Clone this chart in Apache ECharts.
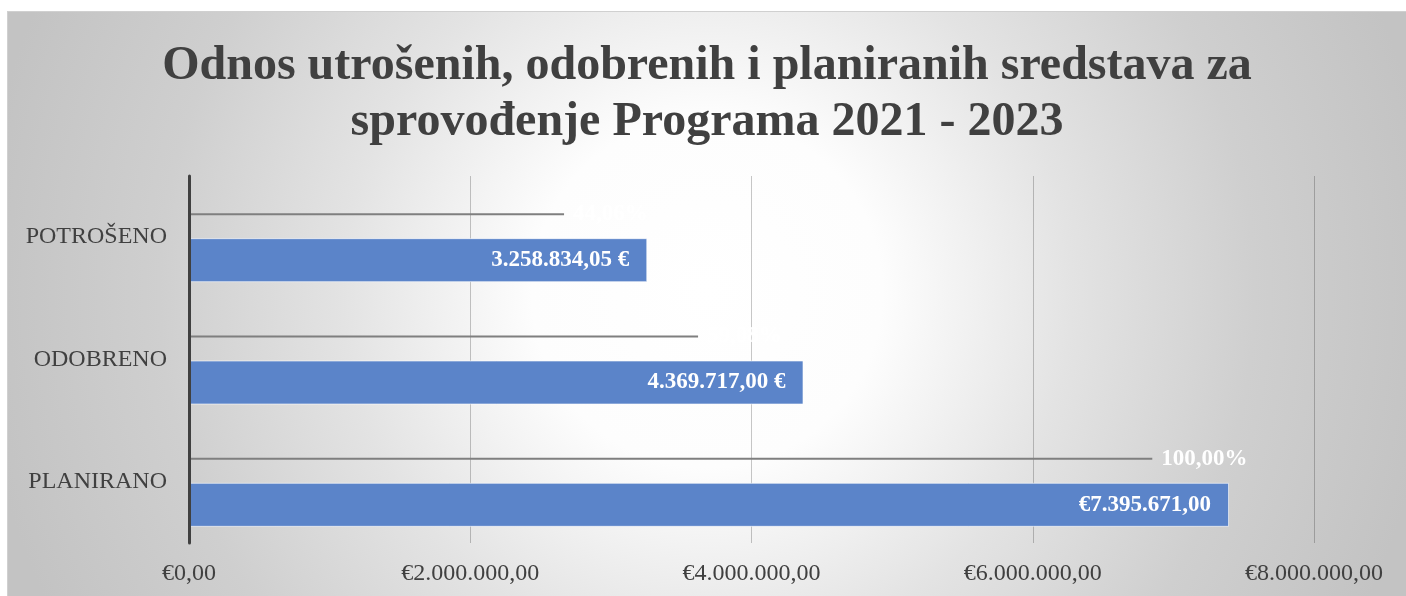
<!DOCTYPE html>
<html>
<head>
<meta charset="utf-8">
<script src="https://cdn.jsdelivr.net/npm/echarts@6/dist/echarts.min.js"></script>
<style>
html, body { margin: 0; padding: 0; background: #ffffff; }
#chart { position: absolute; left: 7px; top: 11px; width: 1399px; height: 585px;
	border-top: 1px solid #d0d0d0; border-left: 1px solid #d0d0d0; box-sizing: border-box; }
</style>
</head>
<body>
<div id="chart"></div>
<script>
// kategorije (odozgo prema dolje)
var categories = ['POTROŠENO', 'ODOBRENO', 'PLANIRANO'];
// iznosi u eurima
var amounts = [3258834.05, 4369717.00, 7395671.00];
var amountLabels = ['3.258.834,05 €', '4.369.717,00 €', '€7.395.671,00'];
// tanke linije iznad stubaca (procijenjeno sa slike, u eurima na istoj osi)
var lineValues = [2667000, 3620000, 6850000];
var lineLabels = ['44,06%', '59,08%', '100,00%'];
// ticks x ose
var axisMin = 0;
var axisMax = 8000000;
var axisStep = 2000000;

var serif = '"Liberation Serif", "Times New Roman", serif';

function fmtEuro(v) {
	var s = Math.round(v).toString().replace(/\B(?=(\d{3})+(?!\d))/g, '.');
	return '€' + s + ',00';
}

var myChart = echarts.init(document.getElementById('chart'));
var option = {
	backgroundColor: {
		type: 'radial', x: 0.5, y: 0.48, r: 1.25,
		colorStops: [
			{ offset: 0, color: '#ffffff' },
			{ offset: 0.24, color: '#fdfdfd' },
			{ offset: 0.5, color: '#e3e3e3' },
			{ offset: 0.75, color: '#cfcfcf' },
			{ offset: 1, color: '#c3c3c3' }
		]
	},
	animation: false,
	title: {
		text: 'Odnos utrošenih, odobrenih i planiranih sredstava za\nsprovođenje Programa 2021 - 2023',
		left: 'center',
		top: 22,
		padding: [5, 0, 5, 10],
		textStyle: {
			fontFamily: serif,
			fontWeight: 'bold',
			fontSize: 48,
			lineHeight: 56,
			color: '#404040'
		}
	},
	grid: [
		{ left: 181, top: 164, width: 1125, height: 367 },
		{ left: 181, top: 141, width: 1125, height: 367 },
		{ left: 181, top: 187, width: 1125, height: 367 }
	],
	xAxis: [
		{
			gridIndex: 0, type: 'value', min: axisMin, max: axisMax, interval: axisStep,
			axisLine: { show: false }, axisTick: { show: false },
			splitLine: { lineStyle: { color: 'rgba(0,0,0,0.22)', width: 1 } },
			axisLabel: { color: '#404040', fontFamily: serif, fontSize: 24, margin: 19, formatter: fmtEuro }
		},
		{ gridIndex: 1, type: 'value', min: axisMin, max: axisMax, show: false },
		{ gridIndex: 2, type: 'value', min: axisMin, max: axisMax, show: false }
	],
	yAxis: [
		{
			gridIndex: 0, type: 'category', inverse: true, data: categories, z: 10,
			axisLine: { lineStyle: { color: '#404040', width: 3 } },
			axisTick: { show: false },
			axisLabel: { color: '#404040', fontFamily: serif, fontSize: 24, margin: 22 }
		},
		{ gridIndex: 1, type: 'category', inverse: true, data: categories, show: false },
		{ gridIndex: 2, type: 'category', inverse: true, data: categories, show: false }
	],
	series: [
		{
			type: 'bar', xAxisIndex: 1, yAxisIndex: 1,
			data: lineValues, barWidth: 2,
			itemStyle: { color: '#7f7f7f' },
			label: {
				show: true, position: 'right', distance: 9,
				color: '#ffffff', textBorderWidth: 0, fontFamily: serif, fontWeight: 'bold', fontSize: 23,
				formatter: function (p) { return lineLabels[p.dataIndex]; }
			}
		},
		{
			type: 'bar', xAxisIndex: 2, yAxisIndex: 2,
			data: amounts, barWidth: 44,
			itemStyle: { color: '#5b84c9', borderColor: 'rgba(255,255,255,0.6)', borderWidth: 1 },
			label: {
				show: true, position: 'insideRight', distance: 18,
				color: '#ffffff', textBorderWidth: 0, fontFamily: serif, fontWeight: 'bold', fontSize: 23,
				formatter: function (p) { return amountLabels[p.dataIndex]; }
			}
		}
	]
};
myChart.setOption(option);
</script>
</body>
</html>
